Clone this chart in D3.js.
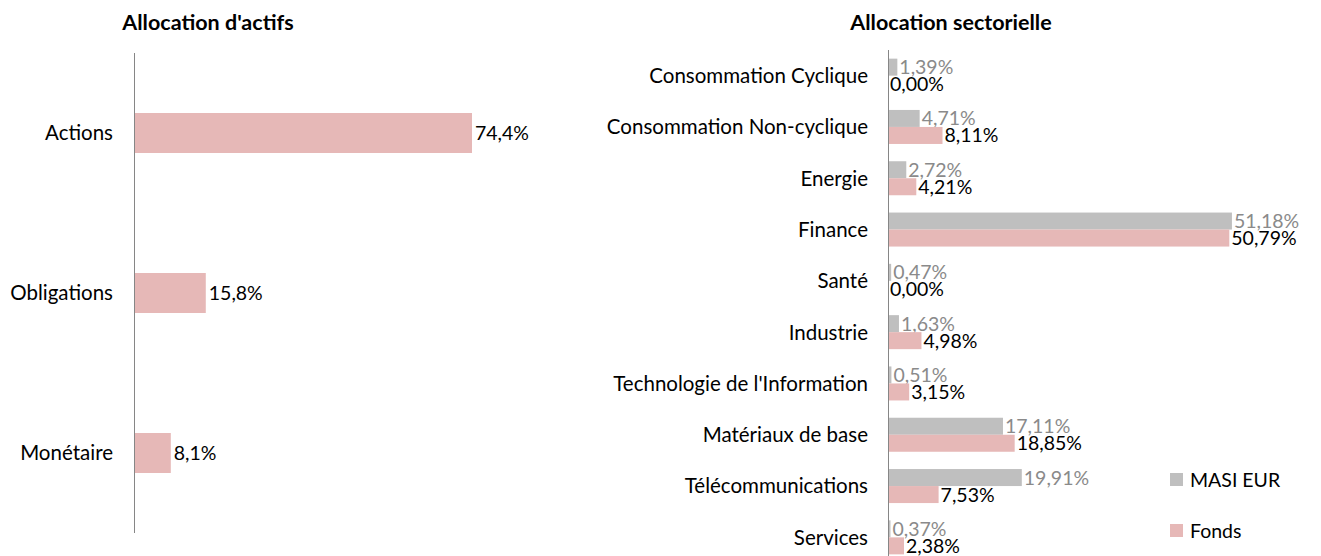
<!DOCTYPE html>
<html><head><meta charset="utf-8">
<script src="https://cdn.jsdelivr.net/npm/d3@7"></script>
<style>
body{margin:0;background:#fff;}
text{font-family:Lato,"Open Sans",sans-serif;}
</style></head>
<body><svg id="c" width="1321" height="556"></svg>
<script>
const assetCats = ["Actions","Obligations","Monétaire"];
const assetVals = [74.4,15.8,8.1];
const assetLabels = ["74,4%","15,8%","8,1%"];

const sectorCats = ["Consommation Cyclique","Consommation Non-cyclique","Energie","Finance","Santé","Industrie","Technologie de l'Information","Matériaux de base","Télécommunications","Services"];
const masiVals = [1.39,4.71,2.72,51.18,0.47,1.63,0.51,17.11,19.91,0.37];
const fondsVals = [0.00,8.11,4.21,50.79,0.00,4.98,3.15,18.85,7.53,2.38];
const seriesNames = ["MASI EUR","Fonds"];
const seriesColors = ["#bfbfbf","#e6b8b7"];
const labelColors = ["#8a8a8a","#000000"];
const fmt = v => v.toFixed(2).replace(".",",")+"%";

const svg = d3.select("#c");
const CAT = 20.5, VAL = 19.5, TITLE = 21.5;

// ---- Left chart
const gL = svg.append("g");
const yL = d3.scaleBand().domain(assetCats).range([53,533]).paddingInner(0.75).paddingOuter(0.375);
const xL = d3.scaleLinear().domain([0,80]).range([134,134+80*4.543]);
gL.append("text").attr("x",208).attr("y",30).attr("text-anchor","middle")
  .attr("font-weight","bold").attr("font-size",TITLE).text("Allocation d'actifs");
gL.selectAll("rect").data(assetVals).join("rect")
  .attr("x",xL(0)).attr("y",(d,i)=>yL(assetCats[i]))
  .attr("width",d=>xL(d)-xL(0)).attr("height",yL.bandwidth()).attr("fill","#e6b8b7");
gL.selectAll("text.v").data(assetVals).join("text").attr("class","v")
  .attr("x",d=>xL(d)+3).attr("y",(d,i)=>yL(assetCats[i])+yL.bandwidth()/2)
  .attr("dy","0.36em").attr("font-size",VAL).attr("fill","#000").text((d,i)=>assetLabels[i]);
const axL = gL.append("g").attr("transform",`translate(${xL(0)},0)`)
  .call(d3.axisLeft(yL).tickSize(0).tickPadding(21));
axL.select(".domain").attr("stroke","#868686").attr("d",`M0.5,53V533`);
axL.selectAll("text").attr("font-size",CAT).attr("fill","#000").attr("dy","0.36em").style("font-family","Lato,sans-serif");

// ---- Right chart
const gR = svg.append("g");
const yR = d3.scaleBand().domain(sectorCats).range([50,563]).paddingInner(0.337).paddingOuter(0.1685);
const yS = d3.scaleBand().domain([0,1]).range([0,yR.bandwidth()]);
const xR = d3.scaleLinear().domain([0,60]).range([888,888+60*6.72]);
gR.append("text").attr("x",951).attr("y",30).attr("text-anchor","middle")
  .attr("font-weight","bold").attr("font-size",TITLE).text("Allocation sectorielle");
[masiVals,fondsVals].forEach((vals,s)=>{
  gR.selectAll("rect.s"+s).data(vals).join("rect").attr("class","s"+s)
    .attr("x",xR(0)).attr("y",(d,i)=>yR(sectorCats[i])+yS(s))
    .attr("width",d=>xR(d)-xR(0)).attr("height",yS.bandwidth()).attr("fill",seriesColors[s]);
  gR.selectAll("text.l"+s).data(vals).join("text").attr("class","l"+s)
    .attr("x",d=>xR(d)+2).attr("y",(d,i)=>yR(sectorCats[i])+yS(s)+yS.bandwidth()/2)
    .attr("dy","0.36em").attr("font-size",VAL).attr("fill",labelColors[s]).text(d=>fmt(d));
});
const axR = gR.append("g").attr("transform",`translate(${xR(0)},0)`)
  .call(d3.axisLeft(yR).tickSize(0).tickPadding(20));
axR.select(".domain").attr("stroke","#868686").attr("d",`M0.5,50V563`);
axR.selectAll("text").attr("font-size",CAT).attr("fill","#000").attr("dy","0.36em").style("font-family","Lato,sans-serif");

// legend
const lg = svg.append("g");
seriesNames.forEach((n,i)=>{
  const y = 480 + i*51;
  lg.append("rect").attr("x",1170).attr("y",y-7).attr("width",13).attr("height",13).attr("fill",seriesColors[i]);
  lg.append("text").attr("x",1190).attr("y",y).attr("dy","0.36em").attr("font-size",VAL).text(n);
});
</script></body></html>
